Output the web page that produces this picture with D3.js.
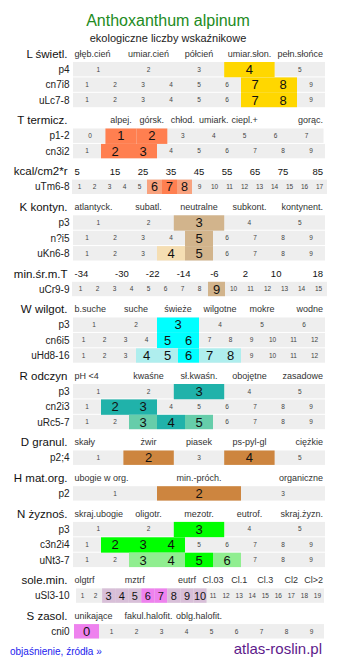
<!DOCTYPE html>
<html><head><meta charset="utf-8">
<script src="https://cdn.jsdelivr.net/npm/d3@7"></script>
<style>
body{margin:0;background:#fff}
svg{display:block;font-family:"Liberation Sans",Arial,sans-serif}
</style>
</head><body><div id="chart"></div>
<script>
// ---------- DATA ----------
const title = "Anthoxanthum alpinum";
const subtitle = "ekologiczne liczby wskaźnikowe";
const footerLink = "objaśnienie, źródła »";
const footerBrand = "atlas-roslin.pl";

const groupNames = ["L świetl.","T termicz.","kcal/cm2*r","K kontyn.","min.śr.m.T","W wilgot.","R odczyn","D granul.","H mat.org.","N żyznoś.","sole.min.","S zasol."];

const groupLabels = [
  ["głęb.cień","umiar.cień","półcień","umiar.słon.","pełn.słońce"],
  ["alpej.","górsk.","chłod.","umiark.","ciepl.+","gorąc."],
  ["5","15","25","35","45","55","65","75","85"],
  ["atlantyck.","subatl.","neutralne","subkont.","kontynent."],
  ["-34","-30","-22","-14","-6","2","10","18"],
  ["b.suche","suche","świeże","wilgotne","mokre","wodne"],
  ["pH <4","kwaśne","sł.kwaśn.","obojętne","zasadowe"],
  ["skały","żwir","piasek","ps-pyl-gl","ciężkie"],
  ["ubogie w org.","min.-próch.","organiczne"],
  ["skraj.ubogie","oligotr.","mezotr.","eutrof.","skraj.żyzn."],
  ["olgtrf","mztrf","eutrf","Cl.03","Cl.1","Cl.3","Cl2","Cl>2"],
  ["unikające","fakul.halofit.","oblg.halofit."]
];

// scale value each label belongs to (null = evenly spaced numeric ticks)
const labelSlots = [
  [1,2,3,4,5],
  [1,2,3,4,5,7],
  null,
  [1,2,3,4,5],
  null,
  [1,2,3,4,5,6],
  [1,2,3,4,5],
  [1,2,3,4,5],
  [1,2,3],
  [1,2,3,4,5],
  [1,5,9,11,13,15,17,19],
  [1,2,3]
];

const rowNames = [
  ["p4","cn7i8","uLc7-8"],
  ["p1-2","cn3i2"],
  ["uTm6-8"],
  ["p3","n?i5","uKn6-8"],
  ["uCr9-9"],
  ["p3","cn6i5","uHd8-16"],
  ["p3","cn2i3","uRc5-7"],
  ["p2;4"],
  ["p2"],
  ["p3","c3n2i4","uNt3-7"],
  ["uSl3-10"],
  ["cni0"]
];

// [first value, last value] of each row's scale
const rowDomains = [
  [[1,5],[1,9],[1,9]],
  [[0,7],[1,9]],
  [[1,17]],
  [[1,5],[1,9],[1,9]],
  [[1,15]],
  [[1,6],[1,12],[1,12]],
  [[1,5],[1,9],[1,9]],
  [[1,5]],
  [[1,3]],
  [[1,5],[1,9],[1,9]],
  [[1,19]],
  [[0,9]]
];

const strongValues = [
  [[4],[7,8],[7,8]],
  [[1,2],[2,3]],
  [[7]],
  [[3],[5],[5]],
  [[9]],
  [[3],[5,6],[6]],
  [[3],[2,3],[4]],
  [[2,4]],
  [[2]],
  [[3],[2,3,4],[5]],
  [[6,7]],
  [[0]]
];

const weakValues = [
  [[],[],[]],
  [[],[]],
  [[6,8]],
  [[],[],[4]],
  [[]],
  [[],[],[4,5,7,8]],
  [[],[],[3,5]],
  [[]],
  [[]],
  [[],[],[3,4,6]],
  [[3,4,5,8,9,10]],
  [[]]
];

const strongColors = ["#ffd700","#ff7f50","#ff7f50","#d2b48c","#d2b48c","#00ffff","#20b2aa","#cd853f","#cd853f","#00ff00","#ee82ee","#ee82ee"];
const weakColors   = ["#ffe866","#ffa07a","#f8a27e","#f5deb3","#f5deb3","#afeeee","#66cdaa","#deb887","#deb887","#90ee90","#d8bfd8","#f5c0f5"];

// ---------- LAYOUT ----------
const W = 337, H = 667;
const TRACK = [73, 325];
const LABEL_CLAMP = [74.5, 323];
const ROW_TOP0 = 62, INTRA = 15.4, INTER = 35.7, ROWH = 14.4;
const NAME_X = 69.5, GROUP_X = 67.5;
// per-row range overrides "g-r": [cellStart, cellEnd, bgStart, bgEnd]
const rangeOverride = {
  "1-0": [74.5, 322, 73, 323.5],
  "2-0": [72, 327, 72, 327],
  "4-0": [72, 327, 72, 327],
  "10-0": [76, 324, 76, 324],
  "11-0": [74, 324, 74, 324]
};
const pointRanges = {2: [87, 311], 4: [91, 307]};

const svg = d3.select("#chart").append("svg").attr("width", W).attr("height", H);

svg.append("text").attr("x", 168).attr("y", 26).attr("text-anchor", "middle")
  .attr("font-size", 16).attr("fill", "#228b22").text(title);
svg.append("text").attr("x", 168).attr("y", 42).attr("text-anchor", "middle")
  .attr("font-size", 11).attr("fill", "#222").text(subtitle);

let y = ROW_TOP0;
groupNames.forEach((gname, g) => {
  const firstTop = y;
  const headY = firstTop - 8.3;
  const gEl = svg.append("g");

  gEl.append("text").attr("x", GROUP_X).attr("y", headY).attr("dy", "0.36em")
    .attr("text-anchor", "end").attr("font-size", 11.5).attr("fill", "#111").text(gname);

  const rowScales = [];
  rowNames[g].forEach((rn, r) => {
    const top = firstTop + r * INTRA;
    const [d0, d1] = rowDomains[g][r];
    const ov = rangeOverride[g + "-" + r] || [TRACK[0], TRACK[1], TRACK[0], TRACK[1]];
    const x = d3.scaleBand().domain(d3.range(d0, d1 + 1)).range([ov[0], ov[1]]).paddingInner(0).paddingOuter(0);
    rowScales.push(x);
    const cy = top + ROWH / 2;
    const rowG = gEl.append("g");
    rowG.append("rect").attr("x", ov[2]).attr("y", top).attr("width", ov[3] - ov[2]).attr("height", ROWH).attr("fill", "#eeeeee");
    const strong = strongValues[g][r], weak = weakValues[g][r];
    const isLast = r === rowNames[g].length - 1;
    const hl = x.domain().filter(v => strong.includes(v) || weak.includes(v));
    const bigFont = Math.min(13, x.bandwidth() * 0.84);
    rowG.selectAll("rect.hl").data(hl).join("rect").attr("class", "hl")
      .attr("x", v => x(v)).attr("y", top).attr("width", x.bandwidth())
      .attr("height", isLast ? ROWH : INTRA + 0.2)
      .attr("fill", v => strong.includes(v) ? strongColors[g] : weakColors[g]);
    rowG.selectAll("text.v").data(x.domain()).join("text").attr("class", "v")
      .attr("x", v => x(v) + x.bandwidth() / 2).attr("y", cy).attr("dy", "0.36em")
      .attr("text-anchor", "middle")
      .attr("font-size", v => hl.includes(v) ? bigFont : 6.5)
      .attr("fill", v => hl.includes(v) ? "#111" : "#444")
      .text(v => v);
    rowG.append("text").attr("x", NAME_X).attr("y", cy).attr("dy", "0.36em")
      .attr("text-anchor", "end").attr("font-size", 10).attr("fill", "#222").text(rn);
  });

  const labels = groupLabels[g];
  const slots = labelSlots[g];
  let pos, anchorOf;
  if (slots === null) {
    const p = d3.scalePoint().domain(labels).range(pointRanges[g]);
    pos = (l, i) => i === 0 ? LABEL_CLAMP[0] : (i === labels.length - 1 ? LABEL_CLAMP[1] : p(l));
    anchorOf = (l, i) => i === 0 ? "start" : (i === labels.length - 1 ? "end" : "middle");
  } else {
    const ref = g === 11 ? d3.scaleBand().domain([1,2,3,4,5]).range(TRACK) : rowScales[0];
    const dom = ref.domain();
    pos = (l, i) => {
      const s = slots[i];
      if (s === dom[0]) return LABEL_CLAMP[0];
      if (s === dom[dom.length - 1]) return LABEL_CLAMP[1];
      return ref(s) + ref.bandwidth() / 2;
    };
    anchorOf = (l, i) => {
      const s = slots[i];
      if (s === dom[0]) return "start";
      if (s === dom[dom.length - 1]) return "end";
      return "middle";
    };
  }
  const numeric = slots === null;
  gEl.selectAll("text.cat").data(labels).join("text").attr("class", "cat")
    .attr("x", pos).attr("y", headY).attr("dy", "0.36em")
    .attr("text-anchor", anchorOf)
    .attr("font-size", numeric ? 9.5 : 9)
    .attr("fill", numeric ? "#111" : "#333")
    .text(l => l);

  y = firstTop + (rowNames[g].length - 1) * INTRA + INTER;
});

svg.append("text").attr("x", 10).attr("y", 655).attr("font-size", 10).attr("fill", "#2222ee").text(footerLink);
svg.append("text").attr("x", 322).attr("y", 653.5).attr("text-anchor", "end").attr("font-size", 15).attr("fill", "#5d1a8b").text(footerBrand);
</script>
</body></html>
